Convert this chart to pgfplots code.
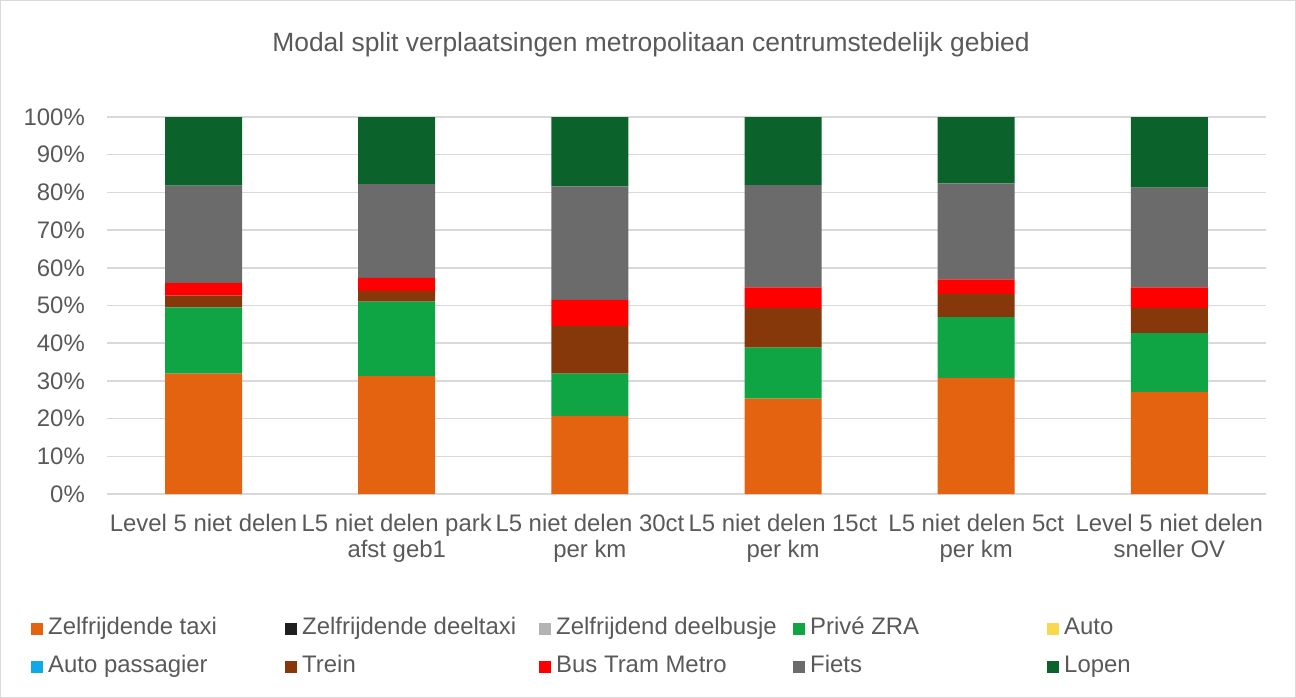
\documentclass[border=0pt]{standalone}
\usepackage{pgfplots}
\pgfplotsset{compat=1.18}
\usepackage{fontspec}
\setmainfont{Liberation Sans}
\definecolor{cTaxi}{HTML}{E46310}
\definecolor{cDeeltaxi}{HTML}{1F1F1F}
\definecolor{cBusje}{HTML}{B3B3B3}
\definecolor{cZRA}{HTML}{10A544}
\definecolor{cAuto}{HTML}{F9D849}
\definecolor{cAutoP}{HTML}{10A9E8}
\definecolor{cTrein}{HTML}{86380A}
\definecolor{cBTM}{HTML}{FF0000}
\definecolor{cFiets}{HTML}{6B6B6B}
\definecolor{cLopen}{HTML}{0B622B}
\definecolor{gridgray}{HTML}{D9D9D9}
\definecolor{textgray}{HTML}{595959}
\newcommand{\legtxt}[1]{\makebox[237bp][l]{#1}}
\begin{document}
\begin{tikzpicture}[x=1bp,y=1bp]
\path[use as bounding box] (0,0) rectangle (1296,-698);
\draw[color=gridgray,line width=1.5bp] (0.75,-0.75) rectangle (1295.25,-697.25);
\node[text=textgray,font=\fontsize{26.5}{30}\selectfont] at (651,-45) {Modal split verplaatsingen metropolitaan centrumstedelijk gebied};
\begin{axis}[
  at={(107bp,-494bp)}, anchor=south west,
  scale only axis, width=1159bp, height=377bp,
  ybar stacked, bar width=77bp,
  xmin=-0.5, xmax=5.5, ymin=0, ymax=100,
  xtick={0,...,5},
  xticklabels={Level 5 niet delen, {L5 niet delen park\\afst geb1}, {L5 niet delen 30ct\\per km}, {L5 niet delen 15ct\\per km}, {L5 niet delen 5ct\\per km}, {Level 5 niet delen\\sneller OV}},
  ytick={0,10,...,100},
  yticklabels={0\%,10\%,20\%,30\%,40\%,50\%,60\%,70\%,80\%,90\%,100\%},
  axis line style={draw=none},
  major tick length=0pt,
  ymajorgrids, grid style={color=gridgray, line width=1.5bp},
  tick label style={font=\fontsize{24}{26}\selectfont, text=textgray},
  xticklabel style={align=center, inner sep=0pt, yshift=-20bp},
  yticklabel style={inner sep=0pt, xshift=-22bp},
  legend columns=5,
  legend style={draw=none, fill=none, inner sep=0pt, at={(-0.06557,-0.3276)}, anchor=north west,
    font=\fontsize{24}{26}\selectfont, text=textgray,
    nodes={inner sep=0pt, text height=17bp, text depth=5bp},
    /tikz/every odd column/.append style={column sep=5bp},
    row sep=16bp},
  legend image code/.code={\fill[#1,draw=none] (0bp,-6bp) rectangle (12bp,6bp);},
  every axis plot/.append style={draw=none},
]
\addplot[fill=cTaxi] coordinates {(0,31.9) (1,31.3) (2,20.7) (3,25.3) (4,30.8) (5,27.1)};
\addlegendentry{\legtxt{Zelfrijdende taxi}}
\addplot[fill=cDeeltaxi] coordinates {(0,0) (1,0) (2,0) (3,0) (4,0) (5,0)};
\addlegendentry{\legtxt{Zelfrijdende deeltaxi}}
\addplot[fill=cBusje] coordinates {(0,0) (1,0) (2,0) (3,0) (4,0) (5,0)};
\addlegendentry{\legtxt{Zelfrijdend deelbusje}}
\addplot[fill=cZRA] coordinates {(0,17.6) (1,19.7) (2,11.2) (3,13.5) (4,16.1) (5,15.6)};
\addlegendentry{\legtxt{Privé ZRA}}
\addplot[fill=cAuto] coordinates {(0,0) (1,0) (2,0) (3,0) (4,0) (5,0)};
\addlegendentry{\legtxt{Auto}}
\addplot[fill=cAutoP] coordinates {(0,0) (1,0) (2,0) (3,0) (4,0) (5,0)};
\addlegendentry{\legtxt{Auto passagier}}
\addplot[fill=cTrein] coordinates {(0,3.1) (1,2.9) (2,12.7) (3,10.6) (4,6.2) (5,6.7)};
\addlegendentry{\legtxt{Trein}}
\addplot[fill=cBTM] coordinates {(0,3.4) (1,3.4) (2,6.9) (3,5.4) (4,3.8) (5,5.4)};
\addlegendentry{\legtxt{Bus Tram Metro}}
\addplot[fill=cFiets] coordinates {(0,25.8) (1,24.9) (2,30.1) (3,27.1) (4,25.5) (5,26.5)};
\addlegendentry{\legtxt{Fiets}}
\addplot[fill=cLopen] coordinates {(0,18.2) (1,17.8) (2,18.4) (3,18.1) (4,17.6) (5,18.7)};
\addlegendentry{\legtxt{Lopen}}
\end{axis}
\end{tikzpicture}
\end{document}
